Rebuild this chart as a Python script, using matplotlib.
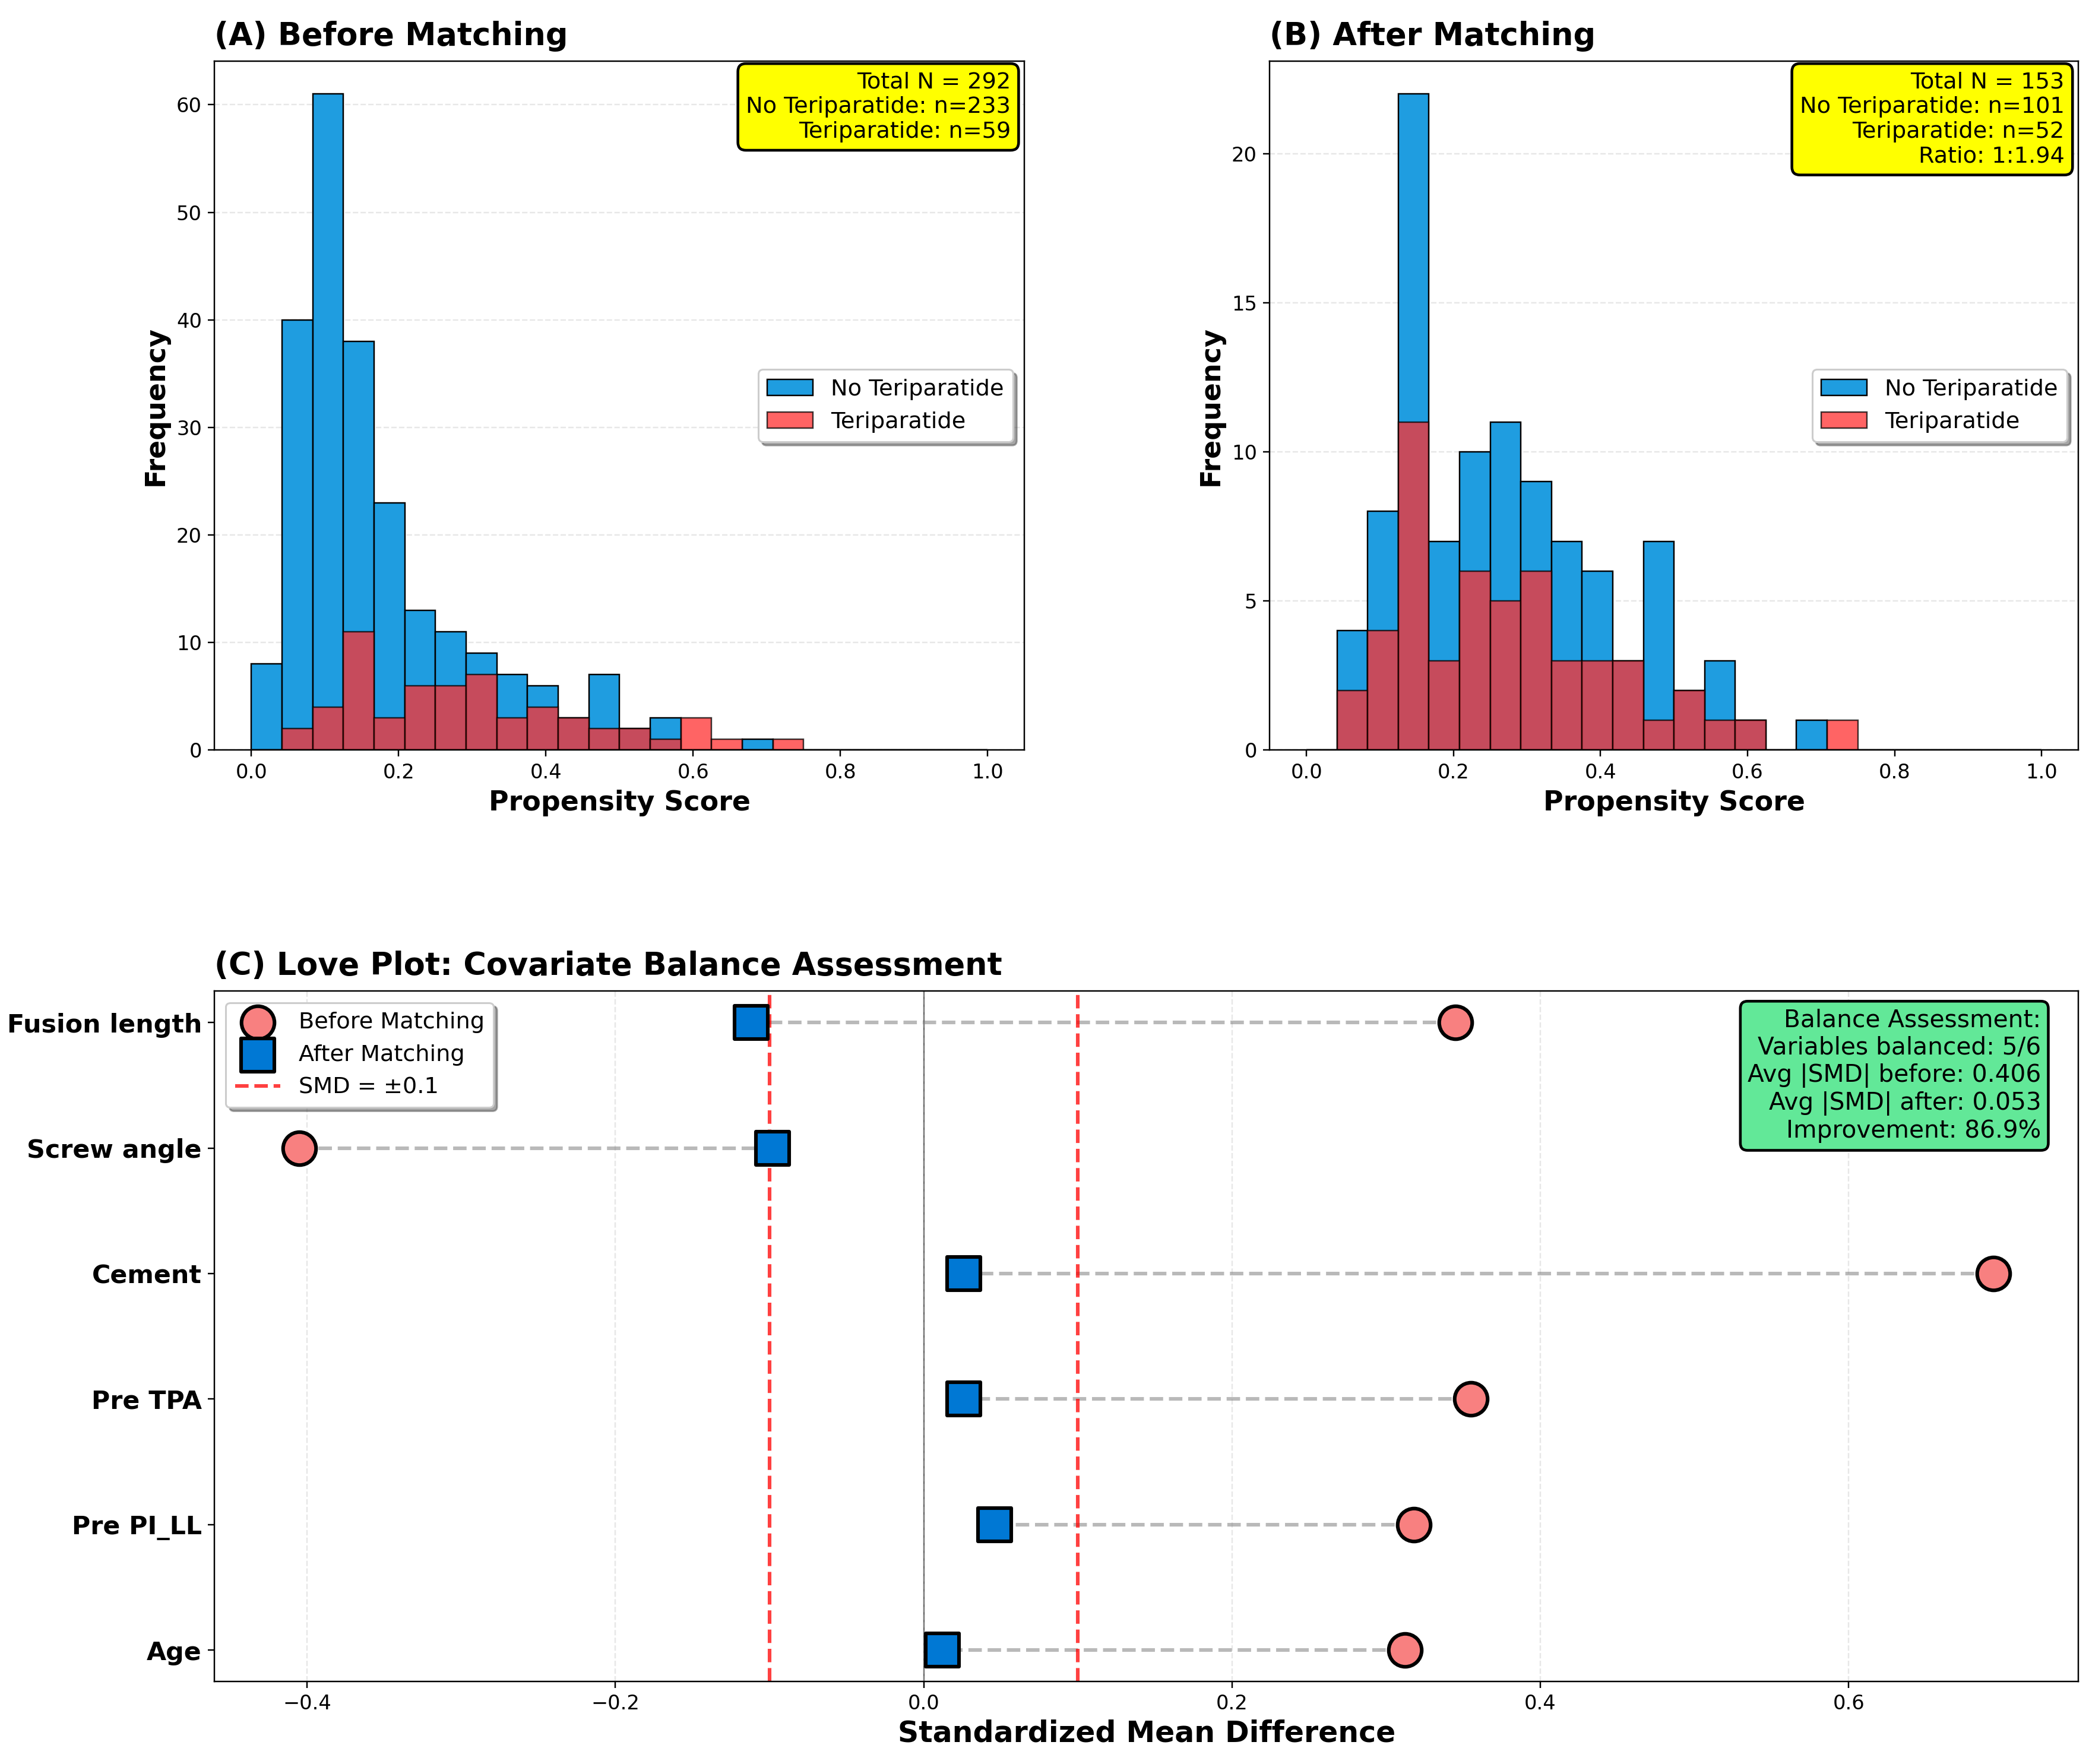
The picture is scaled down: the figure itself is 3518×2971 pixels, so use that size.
import numpy as np
import matplotlib
matplotlib.use("Agg")
import matplotlib.pyplot as plt

# Histogram bins (propensity score), 24 equal bins on [0, 1]
bin_edges = np.linspace(0, 1, 25)

# Counts per bin
before_no_teri = [8, 40, 61, 38, 23, 13, 11, 9, 7, 6, 3, 7, 2, 3, 0, 0, 1, 0, 0, 0, 0, 0, 0, 0]
before_teri = [0, 2, 4, 11, 3, 6, 6, 7, 3, 4, 3, 2, 2, 1, 3, 1, 0, 1, 0, 0, 0, 0, 0, 0]
after_no_teri = [0, 4, 8, 22, 7, 10, 11, 9, 7, 6, 3, 7, 2, 3, 1, 0, 1, 0, 0, 0, 0, 0, 0, 0]
after_teri = [0, 2, 4, 11, 3, 6, 5, 6, 3, 3, 3, 1, 2, 1, 1, 0, 0, 1, 0, 0, 0, 0, 0, 0]

# Love plot data
covariates = ["Age", "Pre PI_LL", "Pre TPA", "Cement", "Screw angle", "Fusion length"]
smd_before = [0.312, 0.318, 0.355, 0.694, -0.405, 0.345]
smd_after = [0.012, 0.046, 0.026, 0.026, -0.098, -0.112]

before_box = "Total N = 292\nNo Teriparatide: n=233\nTeriparatide: n=59"
after_box = "Total N = 153\nNo Teriparatide: n=101\nTeriparatide: n=52\nRatio: 1:1.94"
balance_box = ("Balance Assessment:\nVariables balanced: 5/6\nAvg |SMD| before: 0.406\n"
               "Avg |SMD| after: 0.053\nImprovement: 86.9%")

BLUE = "#1F9DE0"
RED = "#FF3030"
TITLE_FS = 17.2
LABEL_FS = 15
TEXT_FS = 12.5
TICK_FS = 11

plt.rcParams["font.family"] = ["DejaVu Sans"]

fig = plt.figure(figsize=(3518 / 220, 2971 / 220), dpi=220)

ax_a = fig.add_axes([0.1027, 0.5748, 0.3877, 0.3905])
ax_b = fig.add_axes([0.6078, 0.5748, 0.3871, 0.3905])
ax_c = fig.add_axes([0.1027, 0.0468, 0.8922, 0.3913])

centers = (bin_edges[:-1] + bin_edges[1:]) / 2


def draw_hist(ax, no_teri, teri, title, box_text):
    ax.hist(centers, bins=bin_edges, weights=no_teri, color=BLUE, alpha=1.0,
            edgecolor="black", linewidth=0.8, label="No Teriparatide")
    ax.hist(centers, bins=bin_edges, weights=teri, color=RED, alpha=0.75,
            edgecolor="black", linewidth=0.8, label="Teriparatide")
    ax.set_xlim(-0.05, 1.05)
    ax.set_xlabel("Propensity Score", fontsize=LABEL_FS, fontweight="bold")
    ax.set_ylabel("Frequency", fontsize=LABEL_FS, fontweight="bold")
    ax.set_title(title, fontsize=TITLE_FS, fontweight="bold", loc="left", pad=9)
    ax.tick_params(labelsize=TICK_FS)
    ax.grid(axis="y", linestyle="--", alpha=0.3)
    ax.set_axisbelow(True)
    ax.legend(loc="center right", fontsize=TEXT_FS, shadow=True, frameon=True)
    ax.text(0.983, 0.985, box_text, transform=ax.transAxes, ha="right", va="top",
            fontsize=TEXT_FS,
            bbox=dict(boxstyle="round,pad=0.35", facecolor="yellow", edgecolor="black",
                      linewidth=1.5))


draw_hist(ax_a, before_no_teri, before_teri, "(A) Before Matching", before_box)
draw_hist(ax_b, after_no_teri, after_teri, "(B) After Matching", after_box)

# Love plot
y_pos = np.arange(len(covariates))
for i in range(len(covariates)):
    ax_c.plot([smd_before[i], smd_after[i]], [y_pos[i], y_pos[i]], linestyle="--",
              color="gray", alpha=0.55, linewidth=2, zorder=1)

ax_c.scatter(smd_before, y_pos, s=330, marker="o", color="#F88080", edgecolor="black",
             linewidth=2, zorder=3, label="Before Matching")
ax_c.scatter(smd_after, y_pos, s=330, marker="s", color="#0078D4", edgecolor="black",
             linewidth=2, zorder=3, label="After Matching")
ax_c.axvline(0, color="black", linewidth=0.8, alpha=0.6, zorder=0)
ax_c.axvline(0.1, color="red", linestyle="--", linewidth=2, alpha=0.75, label="SMD = ±0.1", zorder=2)
ax_c.axvline(-0.1, color="red", linestyle="--", linewidth=2, alpha=0.75, zorder=2)

ax_c.set_yticks(y_pos)
ax_c.set_yticklabels(covariates, fontsize=14, fontweight="bold")
ax_c.tick_params(axis="x", labelsize=TICK_FS)
ax_c.set_xlabel("Standardized Mean Difference", fontsize=16, fontweight="bold", labelpad=3)
ax_c.set_title("(C) Love Plot: Covariate Balance Assessment", fontsize=TITLE_FS,
               fontweight="bold", loc="left", pad=9)
ax_c.grid(axis="x", linestyle="--", alpha=0.3)
ax_c.set_axisbelow(True)
ax_c.legend(loc="upper left", fontsize=TEXT_FS, shadow=True, frameon=True)
ax_c.text(0.98, 0.975, balance_box, transform=ax_c.transAxes, ha="right", va="top",
          fontsize=13.3,
          bbox=dict(boxstyle="round,pad=0.3", facecolor="#62E898", edgecolor="black",
                    linewidth=1.5))

fig.savefig("out.png", dpi=220)
